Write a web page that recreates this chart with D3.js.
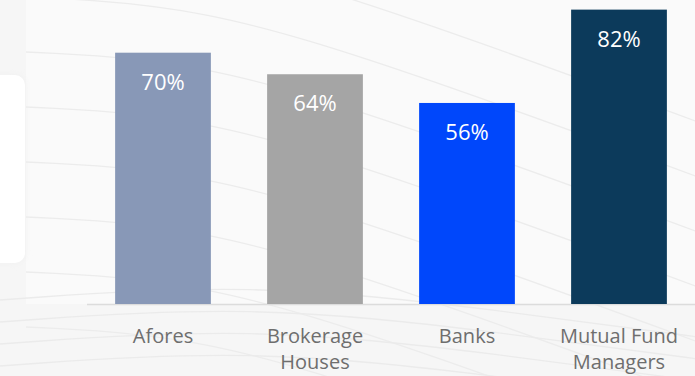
<!DOCTYPE html>
<html>
<head>
<meta charset="utf-8">
<script src="https://cdn.jsdelivr.net/npm/d3@7/dist/d3.min.js"></script>
<style>
  html, body { margin: 0; padding: 0; background: #f8f8f8; }
  svg { display: block; }
</style>
</head>
<body>
<svg id="chart" width="695" height="376"></svg>
<script>
// Share of institutions by type
const categories = ["Afores", "Brokerage Houses", "Banks", "Mutual Fund Managers"];
const categoryLines = [["Afores"], ["Brokerage", "Houses"], ["Banks"], ["Mutual Fund", "Managers"]];
const values = [70, 64, 56, 82];
const barColors = ["#8898b7", "#a5a5a5", "#0047fb", "#0c3a5b"];

const W = 695, H = 376;
const baseY = 304;
const svg = d3.select("#chart");

// soft background with faint sweeping lines
svg.append("rect").attr("width", W).attr("height", H).attr("fill", "#f6f6f6");
const defs = svg.append("defs");
const fl = defs.append("filter").attr("id", "soft").attr("x", "-20%").attr("y", "-20%").attr("width", "140%").attr("height", "140%");
fl.append("feGaussianBlur").attr("stdDeviation", 3);

svg.append("rect").attr("x", 26).attr("y", 0).attr("width", W - 26).attr("height", baseY)
  .attr("fill", "#fafafa");
svg.append("rect").attr("x", -20).attr("y", 75).attr("width", 45).attr("height", 188).attr("rx", 10)
  .attr("fill", "#f0f0f0").attr("filter", "url(#soft)");
svg.append("rect").attr("x", -20).attr("y", 75).attr("width", 45).attr("height", 188).attr("rx", 10)
  .attr("fill", "#ffffff");

const waves = svg.append("g").attr("fill", "none").attr("stroke", "#ececec").attr("stroke-width", 1.3);
const wline = d3.line().curve(d3.curveBasis);
for (let i = 0; i < 9; i++) {
  const o = i * 55 - 120;
  waves.append("path").attr("d", wline([[26, o + 62], [200, o + 70], [420, o + 140], [720, o + 250]]));
}
for (let i = 0; i < 4; i++) {
  const o = 300 + i * 22;
  waves.append("path").attr("stroke", "#ebebeb").attr("d", wline([[0, o], [250, o - 18], [500, o + 10], [720, o + 40]]));
}

const x = d3.scaleBand().domain(categories).range([87, 695]).paddingInner(0.37).paddingOuter(0.185);
const y = d3.scaleLinear().domain([0, 100]).range([baseY, baseY - 359]);

// baseline
svg.append("line").attr("x1", 87).attr("x2", W).attr("y1", baseY + 0.5).attr("y2", baseY + 0.5)
  .attr("stroke", "#dcdcdc").attr("stroke-width", 1.5);

const g = svg.append("g");
g.selectAll("rect.bar").data(values).join("rect")
  .attr("class", "bar")
  .attr("x", (d, i) => x(categories[i]))
  .attr("width", x.bandwidth())
  .attr("y", d => y(d))
  .attr("height", d => y(0) - y(d))
  .attr("fill", (d, i) => barColors[i]);

g.selectAll("text.val").data(values).join("text")
  .attr("class", "val")
  .attr("x", (d, i) => x(categories[i]) + x.bandwidth() / 2)
  .attr("y", d => y(d) + 37)
  .attr("text-anchor", "middle")
  .attr("font-family", "'Open Sans', sans-serif")
  .attr("font-size", 22)
  .attr("fill", "#ffffff")
  .text(d => d + "%");

const labels = g.selectAll("text.cat").data(categories).join("text")
  .attr("class", "cat")
  .attr("text-anchor", "middle")
  .attr("font-family", "'Open Sans', sans-serif")
  .attr("font-size", 20)
  .attr("fill", "#6e6e6e");
labels.each(function(c, i) {
  const t = d3.select(this);
  categoryLines[i].forEach((ln, k) => {
    t.append("tspan")
      .attr("x", x(c) + x.bandwidth() / 2)
      .attr("y", 343 + k * 26)
      .text(ln);
  });
});
</script>
</body>
</html>
